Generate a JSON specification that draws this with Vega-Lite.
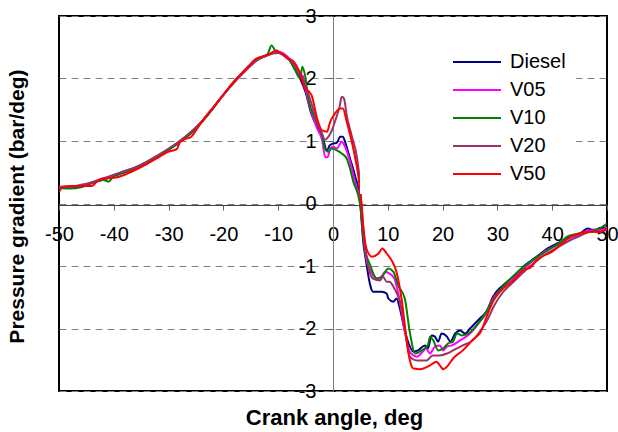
{
  "$schema": "https://vega.github.io/schema/vega-lite/v6.json",
  "width": 548,
  "height": 375,
  "autosize": "none",
  "padding": {"left": 59, "top": 16, "right": 11, "bottom": 41},
  "background": "white",
  "config": {
    "font": "Liberation Sans",
    "view": {"stroke": "black", "strokeWidth": 2}
  },
  "data": {
    "values": [
      {"s":"Diesel","x":-50,"y":0.24},{"s":"Diesel","x":-48,"y":0.26},{"s":"Diesel","x":-46,"y":0.27},{"s":"Diesel","x":-44,"y":0.33},{"s":"Diesel","x":-42,"y":0.38},{"s":"Diesel","x":-40,"y":0.44},{"s":"Diesel","x":-38,"y":0.5},{"s":"Diesel","x":-36,"y":0.56},{"s":"Diesel","x":-34,"y":0.65},{"s":"Diesel","x":-32,"y":0.75},{"s":"Diesel","x":-30,"y":0.86},{"s":"Diesel","x":-28,"y":0.98},{"s":"Diesel","x":-26,"y":1.12},{"s":"Diesel","x":-24,"y":1.3},{"s":"Diesel","x":-22,"y":1.51},{"s":"Diesel","x":-20,"y":1.74},{"s":"Diesel","x":-18,"y":1.95},{"s":"Diesel","x":-16,"y":2.14},{"s":"Diesel","x":-14,"y":2.3},{"s":"Diesel","x":-12,"y":2.38},{"s":"Diesel","x":-10,"y":2.42},{"s":"Diesel","x":-9,"y":2.38},{"s":"Diesel","x":-8,"y":2.3},{"s":"Diesel","x":-7,"y":2.16},{"s":"Diesel","x":-6,"y":2.0},{"s":"Diesel","x":-5,"y":1.78},{"s":"Diesel","x":-4,"y":1.45},{"s":"Diesel","x":-3,"y":1.25},{"s":"Diesel","x":-2,"y":1.1},{"s":"Diesel","x":-1.1,"y":0.85},{"s":"Diesel","x":-0.6,"y":0.93},{"s":"Diesel","x":0,"y":0.96},{"s":"Diesel","x":0.7,"y":0.97},{"s":"Diesel","x":1.3,"y":1.07},{"s":"Diesel","x":1.8,"y":1.07},{"s":"Diesel","x":2.3,"y":0.96},{"s":"Diesel","x":3.1,"y":0.72},{"s":"Diesel","x":4,"y":0.45},{"s":"Diesel","x":4.9,"y":0.08},{"s":"Diesel","x":5.5,"y":-0.6},{"s":"Diesel","x":6.1,"y":-0.96},{"s":"Diesel","x":6.8,"y":-1.31},{"s":"Diesel","x":7.3,"y":-1.41},{"s":"Diesel","x":8.9,"y":-1.41},{"s":"Diesel","x":9.8,"y":-1.44},{"s":"Diesel","x":10.1,"y":-1.52},{"s":"Diesel","x":11,"y":-1.57},{"s":"Diesel","x":11.6,"y":-1.52},{"s":"Diesel","x":12.2,"y":-1.68},{"s":"Diesel","x":13,"y":-2.0},{"s":"Diesel","x":13.5,"y":-2.16},{"s":"Diesel","x":14.7,"y":-2.37},{"s":"Diesel","x":15.5,"y":-2.35},{"s":"Diesel","x":16.8,"y":-2.27},{"s":"Diesel","x":17.3,"y":-2.32},{"s":"Diesel","x":18,"y":-2.11},{"s":"Diesel","x":18.6,"y":-2.13},{"s":"Diesel","x":19.2,"y":-2.21},{"s":"Diesel","x":19.8,"y":-2.08},{"s":"Diesel","x":20.8,"y":-2.13},{"s":"Diesel","x":21.4,"y":-2.21},{"s":"Diesel","x":22.3,"y":-2.08},{"s":"Diesel","x":23.2,"y":-2.03},{"s":"Diesel","x":24.1,"y":-2.08},{"s":"Diesel","x":25,"y":-2.0},{"s":"Diesel","x":26.8,"y":-1.84},{"s":"Diesel","x":28,"y":-1.73},{"s":"Diesel","x":29.2,"y":-1.49},{"s":"Diesel","x":31,"y":-1.31},{"s":"Diesel","x":32.9,"y":-1.17},{"s":"Diesel","x":34.7,"y":-1.01},{"s":"Diesel","x":37.2,"y":-0.85},{"s":"Diesel","x":39.1,"y":-0.72},{"s":"Diesel","x":40.9,"y":-0.64},{"s":"Diesel","x":42.7,"y":-0.56},{"s":"Diesel","x":45.1,"y":-0.48},{"s":"Diesel","x":46.5,"y":-0.4},{"s":"Diesel","x":47.4,"y":-0.42},{"s":"Diesel","x":49.2,"y":-0.4},{"s":"Diesel","x":50,"y":-0.37},

      {"s":"V05","x":-50,"y":0.25},{"s":"V05","x":-48,"y":0.26},{"s":"V05","x":-46,"y":0.3},{"s":"V05","x":-44,"y":0.32},{"s":"V05","x":-42,"y":0.39},{"s":"V05","x":-40,"y":0.45},{"s":"V05","x":-38,"y":0.52},{"s":"V05","x":-36,"y":0.58},{"s":"V05","x":-34,"y":0.66},{"s":"V05","x":-32,"y":0.76},{"s":"V05","x":-30,"y":0.87},{"s":"V05","x":-28,"y":0.99},{"s":"V05","x":-26,"y":1.13},{"s":"V05","x":-24,"y":1.3},{"s":"V05","x":-22,"y":1.52},{"s":"V05","x":-20,"y":1.74},{"s":"V05","x":-18,"y":1.95},{"s":"V05","x":-16,"y":2.14},{"s":"V05","x":-14,"y":2.3},{"s":"V05","x":-12,"y":2.37},{"s":"V05","x":-10,"y":2.43},{"s":"V05","x":-9,"y":2.4},{"s":"V05","x":-8,"y":2.32},{"s":"V05","x":-7,"y":2.2},{"s":"V05","x":-6,"y":2.06},{"s":"V05","x":-5.5,"y":2.04},{"s":"V05","x":-5,"y":1.82},{"s":"V05","x":-4,"y":1.48},{"s":"V05","x":-3,"y":1.22},{"s":"V05","x":-2,"y":1.02},{"s":"V05","x":-1.4,"y":0.74},{"s":"V05","x":-1,"y":0.74},{"s":"V05","x":-0.5,"y":0.88},{"s":"V05","x":0,"y":0.91},{"s":"V05","x":0.7,"y":0.88},{"s":"V05","x":1.6,"y":0.99},{"s":"V05","x":2.2,"y":0.91},{"s":"V05","x":3.1,"y":0.67},{"s":"V05","x":4,"y":0.35},{"s":"V05","x":5,"y":0.0},{"s":"V05","x":5.5,"y":-0.5},{"s":"V05","x":6,"y":-0.85},{"s":"V05","x":7,"y":-1.1},{"s":"V05","x":8,"y":-1.2},{"s":"V05","x":8.6,"y":-1.2},{"s":"V05","x":9.5,"y":-1.09},{"s":"V05","x":10.3,"y":-1.12},{"s":"V05","x":11.2,"y":-1.2},{"s":"V05","x":12.2,"y":-1.57},{"s":"V05","x":13,"y":-2.0},{"s":"V05","x":14,"y":-2.37},{"s":"V05","x":15.3,"y":-2.45},{"s":"V05","x":16.4,"y":-2.37},{"s":"V05","x":17,"y":-2.32},{"s":"V05","x":17.7,"y":-2.4},{"s":"V05","x":18.6,"y":-2.29},{"s":"V05","x":19.5,"y":-2.27},{"s":"V05","x":20.1,"y":-2.35},{"s":"V05","x":20.8,"y":-2.29},{"s":"V05","x":21.7,"y":-2.27},{"s":"V05","x":23.2,"y":-2.19},{"s":"V05","x":25,"y":-2.08},{"s":"V05","x":26.8,"y":-1.89},{"s":"V05","x":28,"y":-1.75},{"s":"V05","x":29,"y":-1.55},{"s":"V05","x":31,"y":-1.35},{"s":"V05","x":33,"y":-1.2},{"s":"V05","x":35,"y":-1.03},{"s":"V05","x":36,"y":-0.95},{"s":"V05","x":37,"y":-0.88},{"s":"V05","x":39,"y":-0.75},{"s":"V05","x":41,"y":-0.66},{"s":"V05","x":43,"y":-0.56},{"s":"V05","x":45,"y":-0.48},{"s":"V05","x":47,"y":-0.43},{"s":"V05","x":49,"y":-0.42},{"s":"V05","x":50,"y":-0.38},

      {"s":"V10","x":-50,"y":0.25},{"s":"V10","x":-48,"y":0.24},{"s":"V10","x":-46,"y":0.26},{"s":"V10","x":-44,"y":0.33},{"s":"V10","x":-42,"y":0.38},{"s":"V10","x":-41,"y":0.35},{"s":"V10","x":-40,"y":0.44},{"s":"V10","x":-38,"y":0.5},{"s":"V10","x":-36,"y":0.56},{"s":"V10","x":-34,"y":0.65},{"s":"V10","x":-32,"y":0.75},{"s":"V10","x":-30,"y":0.86},{"s":"V10","x":-28,"y":0.98},{"s":"V10","x":-26,"y":1.12},{"s":"V10","x":-24,"y":1.3},{"s":"V10","x":-22,"y":1.51},{"s":"V10","x":-20,"y":1.74},{"s":"V10","x":-18,"y":1.95},{"s":"V10","x":-16,"y":2.14},{"s":"V10","x":-14,"y":2.3},{"s":"V10","x":-12,"y":2.38},{"s":"V10","x":-11.2,"y":2.53},{"s":"V10","x":-10.5,"y":2.44},{"s":"V10","x":-9,"y":2.38},{"s":"V10","x":-8,"y":2.3},{"s":"V10","x":-7,"y":2.15},{"s":"V10","x":-6,"y":2.0},{"s":"V10","x":-5.6,"y":2.19},{"s":"V10","x":-5.1,"y":2.05},{"s":"V10","x":-4.5,"y":1.68},{"s":"V10","x":-3.3,"y":1.36},{"s":"V10","x":-2,"y":1.09},{"s":"V10","x":-1.5,"y":0.88},{"s":"V10","x":-0.9,"y":0.83},{"s":"V10","x":-0.2,"y":0.88},{"s":"V10","x":0.7,"y":0.85},{"s":"V10","x":1.6,"y":0.8},{"s":"V10","x":2.5,"y":0.72},{"s":"V10","x":3.1,"y":0.56},{"s":"V10","x":3.7,"y":0.35},{"s":"V10","x":4.6,"y":0.13},{"s":"V10","x":5,"y":-0.05},{"s":"V10","x":5.4,"y":-0.4},{"s":"V10","x":5.8,"y":-0.7},{"s":"V10","x":6.8,"y":-0.99},{"s":"V10","x":8,"y":-1.2},{"s":"V10","x":9.1,"y":-1.15},{"s":"V10","x":10.1,"y":-1.04},{"s":"V10","x":11,"y":-1.09},{"s":"V10","x":11.9,"y":-1.31},{"s":"V10","x":13.1,"y":-1.52},{"s":"V10","x":14,"y":-2.05},{"s":"V10","x":15,"y":-2.4},{"s":"V10","x":16.2,"y":-2.35},{"s":"V10","x":17.3,"y":-2.27},{"s":"V10","x":17.7,"y":-2.13},{"s":"V10","x":18.3,"y":-2.19},{"s":"V10","x":19.2,"y":-2.35},{"s":"V10","x":20.1,"y":-2.32},{"s":"V10","x":21,"y":-2.24},{"s":"V10","x":21.9,"y":-2.21},{"s":"V10","x":22.6,"y":-2.08},{"s":"V10","x":23.5,"y":-2.11},{"s":"V10","x":24.7,"y":-2.08},{"s":"V10","x":26.2,"y":-1.95},{"s":"V10","x":28,"y":-1.73},{"s":"V10","x":29.5,"y":-1.5},{"s":"V10","x":31,"y":-1.33},{"s":"V10","x":33,"y":-1.15},{"s":"V10","x":35,"y":-1.0},{"s":"V10","x":37,"y":-0.87},{"s":"V10","x":39,"y":-0.76},{"s":"V10","x":41,"y":-0.65},{"s":"V10","x":43,"y":-0.52},{"s":"V10","x":45,"y":-0.48},{"s":"V10","x":47,"y":-0.45},{"s":"V10","x":49,"y":-0.38},{"s":"V10","x":50,"y":-0.32},

      {"s":"V20","x":-50,"y":0.27},{"s":"V20","x":-48,"y":0.27},{"s":"V20","x":-46,"y":0.29},{"s":"V20","x":-44,"y":0.34},{"s":"V20","x":-42,"y":0.4},{"s":"V20","x":-40,"y":0.46},{"s":"V20","x":-38,"y":0.52},{"s":"V20","x":-36,"y":0.58},{"s":"V20","x":-34,"y":0.67},{"s":"V20","x":-32,"y":0.77},{"s":"V20","x":-30,"y":0.88},{"s":"V20","x":-28,"y":1.0},{"s":"V20","x":-26,"y":1.14},{"s":"V20","x":-24,"y":1.31},{"s":"V20","x":-22,"y":1.52},{"s":"V20","x":-20,"y":1.74},{"s":"V20","x":-18,"y":1.94},{"s":"V20","x":-16,"y":2.12},{"s":"V20","x":-14,"y":2.28},{"s":"V20","x":-12,"y":2.37},{"s":"V20","x":-11,"y":2.4},{"s":"V20","x":-10,"y":2.41},{"s":"V20","x":-9,"y":2.38},{"s":"V20","x":-8,"y":2.31},{"s":"V20","x":-7,"y":2.2},{"s":"V20","x":-6,"y":2.08},{"s":"V20","x":-5,"y":1.88},{"s":"V20","x":-4,"y":1.62},{"s":"V20","x":-3,"y":1.32},{"s":"V20","x":-2,"y":1.12},{"s":"V20","x":-1.5,"y":1.02},{"s":"V20","x":-1,"y":1.05},{"s":"V20","x":-0.2,"y":1.17},{"s":"V20","x":0.5,"y":1.35},{"s":"V20","x":1.2,"y":1.55},{"s":"V20","x":1.6,"y":1.71},{"s":"V20","x":2,"y":1.68},{"s":"V20","x":2.5,"y":1.41},{"s":"V20","x":3.4,"y":1.09},{"s":"V20","x":4.4,"y":0.72},{"s":"V20","x":4.9,"y":0.35},{"s":"V20","x":5.2,"y":-0.03},{"s":"V20","x":5.6,"y":-0.45},{"s":"V20","x":6,"y":-0.8},{"s":"V20","x":7.3,"y":-1.2},{"s":"V20","x":8.6,"y":-1.23},{"s":"V20","x":9.1,"y":-1.17},{"s":"V20","x":9.8,"y":-1.25},{"s":"V20","x":10.3,"y":-1.25},{"s":"V20","x":11.2,"y":-1.36},{"s":"V20","x":12.2,"y":-1.57},{"s":"V20","x":13,"y":-1.95},{"s":"V20","x":14,"y":-2.45},{"s":"V20","x":15.3,"y":-2.51},{"s":"V20","x":17.1,"y":-2.51},{"s":"V20","x":18.2,"y":-2.43},{"s":"V20","x":19.5,"y":-2.43},{"s":"V20","x":20.8,"y":-2.4},{"s":"V20","x":21.9,"y":-2.35},{"s":"V20","x":23.7,"y":-2.27},{"s":"V20","x":25.5,"y":-2.19},{"s":"V20","x":26.8,"y":-2.05},{"s":"V20","x":28,"y":-1.89},{"s":"V20","x":29.5,"y":-1.62},{"s":"V20","x":31,"y":-1.42},{"s":"V20","x":33,"y":-1.25},{"s":"V20","x":35,"y":-1.08},{"s":"V20","x":37,"y":-0.93},{"s":"V20","x":39,"y":-0.8},{"s":"V20","x":41,"y":-0.7},{"s":"V20","x":43,"y":-0.6},{"s":"V20","x":45,"y":-0.52},{"s":"V20","x":47,"y":-0.45},{"s":"V20","x":49,"y":-0.45},{"s":"V20","x":50,"y":-0.42},

      {"s":"V50","x":-50,"y":0.18},{"s":"V50","x":-49.3,"y":0.27},{"s":"V50","x":-48,"y":0.28},{"s":"V50","x":-46,"y":0.28},{"s":"V50","x":-44,"y":0.28},{"s":"V50","x":-43,"y":0.36},{"s":"V50","x":-42,"y":0.4},{"s":"V50","x":-40,"y":0.41},{"s":"V50","x":-38,"y":0.46},{"s":"V50","x":-36,"y":0.54},{"s":"V50","x":-34,"y":0.63},{"s":"V50","x":-32,"y":0.73},{"s":"V50","x":-30,"y":0.83},{"s":"V50","x":-28.5,"y":0.87},{"s":"V50","x":-28,"y":0.97},{"s":"V50","x":-27,"y":1.03},{"s":"V50","x":-26,"y":1.06},{"s":"V50","x":-25,"y":1.17},{"s":"V50","x":-24,"y":1.3},{"s":"V50","x":-22,"y":1.52},{"s":"V50","x":-20,"y":1.74},{"s":"V50","x":-18,"y":1.96},{"s":"V50","x":-16,"y":2.14},{"s":"V50","x":-14,"y":2.32},{"s":"V50","x":-12,"y":2.37},{"s":"V50","x":-10.3,"y":2.45},{"s":"V50","x":-9.5,"y":2.4},{"s":"V50","x":-8.5,"y":2.33},{"s":"V50","x":-7.3,"y":2.28},{"s":"V50","x":-6,"y":2.08},{"s":"V50","x":-5.1,"y":1.84},{"s":"V50","x":-4.5,"y":1.8},{"s":"V50","x":-3.9,"y":1.73},{"s":"V50","x":-2.9,"y":1.36},{"s":"V50","x":-2,"y":1.17},{"s":"V50","x":-1.1,"y":1.15},{"s":"V50","x":-0.5,"y":1.31},{"s":"V50","x":0,"y":1.39},{"s":"V50","x":1.3,"y":1.52},{"s":"V50","x":1.8,"y":1.52},{"s":"V50","x":2.5,"y":1.31},{"s":"V50","x":3.7,"y":0.88},{"s":"V50","x":4.6,"y":0.45},{"s":"V50","x":5.2,"y":0.0},{"s":"V50","x":5.5,"y":-0.35},{"s":"V50","x":6.1,"y":-0.72},{"s":"V50","x":7.1,"y":-0.85},{"s":"V50","x":8.3,"y":-0.8},{"s":"V50","x":9,"y":-0.72},{"s":"V50","x":9.8,"y":-0.8},{"s":"V50","x":10.7,"y":-0.91},{"s":"V50","x":11.6,"y":-1.1},{"s":"V50","x":12.5,"y":-1.52},{"s":"V50","x":13.4,"y":-2.15},{"s":"V50","x":14,"y":-2.5},{"s":"V50","x":14.7,"y":-2.64},{"s":"V50","x":15.9,"y":-2.65},{"s":"V50","x":17.7,"y":-2.59},{"s":"V50","x":18.9,"y":-2.53},{"s":"V50","x":19.5,"y":-2.59},{"s":"V50","x":20.1,"y":-2.65},{"s":"V50","x":20.8,"y":-2.61},{"s":"V50","x":21.9,"y":-2.48},{"s":"V50","x":23.7,"y":-2.35},{"s":"V50","x":25.5,"y":-2.18},{"s":"V50","x":27,"y":-2.05},{"s":"V50","x":28,"y":-1.82},{"s":"V50","x":29.2,"y":-1.57},{"s":"V50","x":30.5,"y":-1.41},{"s":"V50","x":32.9,"y":-1.23},{"s":"V50","x":35,"y":-1.05},{"s":"V50","x":36,"y":-1.03},{"s":"V50","x":37,"y":-0.92},{"s":"V50","x":40,"y":-0.77},{"s":"V50","x":43.8,"y":-0.51},{"s":"V50","x":47,"y":-0.45},{"s":"V50","x":48.7,"y":-0.45},{"s":"V50","x":50,"y":-0.4}
    ]
  },
  "mark": {"type": "line", "interpolate": "monotone", "clip": true},
  "encoding": {
    "x": {
      "field": "x", "type": "quantitative",
      "scale": {"domain": [-50, 50], "nice": false, "zero": false},
      "axis": {
        "values": [-50, -40, -30, -20, -10, 0, 10, 20, 30, 40, 50],
        "labelExpr": "'' + datum.value",
        "offset": -186,
        "grid": false,
        "tickSize": 5, "tickColor": "#606060",
        "domainColor": "#404040", "domainWidth": 1,
        "labelFont": "Liberation Sans", "labelFontSize": 20, "labelColor": "black",
        "labelPadding": 14, "labelFlush": false, "labelOverlap": false,
        "title": "Crank angle, deg",
        "titleFont": "Liberation Sans", "titleFontSize": 22, "titleFontWeight": "bold", "titleColor": "black",
        "titleX": 275, "titleY": 219, "titleAlign": "center", "titleBaseline": "alphabetic"
      }
    },
    "y": {
      "field": "y", "type": "quantitative",
      "scale": {"domain": [-3, 3], "nice": false, "zero": false},
      "axis": {
        "values": [-3, -2, -1, 0, 1, 2, 3],
        "labelExpr": "'' + datum.value",
        "offset": -274,
        "grid": true, "gridDash": [7, 5], "gridColor": "#808080", "gridWidth": 1,
        "tickSize": 5, "tickColor": "#606060",
        "domainColor": "#808080", "domainWidth": 1,
        "labelFont": "Liberation Sans", "labelFontSize": 20, "labelColor": "black",
        "labelPadding": 12, "labelFlush": false, "labelOverlap": false,
        "title": "Pressure gradient (bar/deg)",
        "titleFont": "Liberation Sans", "titleFontSize": 21, "titleFontWeight": "bold", "titleColor": "black",
        "titleAngle": -90, "titleX": -316, "titleY": 190, "titleAlign": "center", "titleBaseline": "middle"
      }
    },
    "color": {
      "field": "s", "type": "nominal",
      "scale": {"domain": ["Diesel", "V05", "V10", "V20", "V50"], "range": ["#000080", "#FF00FF", "#008000", "#993366", "#FF0000"]},
      "legend": {
        "orient": "none", "legendX": 301, "legendY": 26, "title": null, "padding": 10,
        "fillColor": "white", "strokeColor": null,
        "symbolType": "M-4.8,0H4.8", "symbolSize": 100, "symbolStrokeWidth": 2, "symbolFillColor": "transparent",
        "symbolOffset": 97,
        "labelFont": "Liberation Sans", "labelFontSize": 20, "labelColor": "black",
        "labelOffset": 23, "rowPadding": 8
      }
    },
    "strokeWidth": {
      "field": "s", "type": "nominal",
      "scale": {"domain": ["Diesel", "V05", "V10", "V20", "V50"], "range": [2, 2, 2, 2, 2.6]},
      "legend": null
    }
  }
}
